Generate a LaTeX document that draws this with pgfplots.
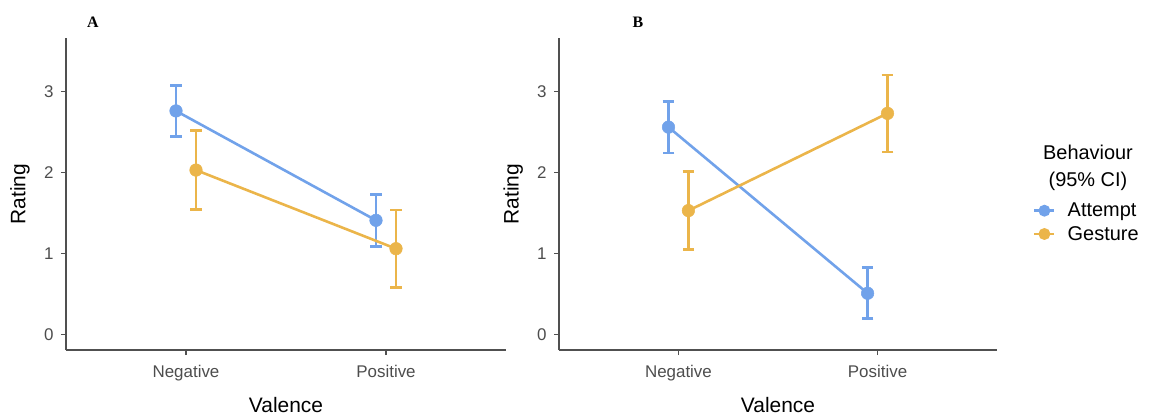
\documentclass[border=0pt]{standalone}
\usepackage{fontspec}
\setmainfont{Liberation Sans}
\newfontfamily\panelfont{Liberation Serif}
\usepackage{pgfplots}
\pgfplotsset{compat=1.18}

\definecolor{attblue}{HTML}{71A2EA}
\definecolor{gesorange}{HTML}{EBB54A}
\definecolor{axisgray}{HTML}{505050}
\definecolor{tickgray}{HTML}{4D4D4D}

\pgfplotsset{
  ratingaxis/.style={
    scale only axis, width=440bp, height=312bp,
    xmin=0.4, xmax=2.6, ymin=-0.19, ymax=3.66,
    axis x line=bottom, axis y line=left,
    axis line style={axisgray, line width=1.2bp, -},
    xtick={1,2}, xticklabels={Negative,Positive},
    ytick={0,1,2,3},
    tick align=outside, major tick length=5bp,
    tick style={axisgray, line width=1.2bp},
    ticklabel style={font=\fontsize{17}{20}\selectfont, text=tickgray},
    xticklabel style={yshift=-7bp},
    yticklabel style={xshift=-4bp},
    /pgf/number format/assume math mode=true,
    xlabel={Valence}, ylabel={Rating},
    label style={font=\fontsize{21}{24}\selectfont},
    xlabel style={at={(axis description cs:0.5,-0.176)}, anchor=center},
    ylabel style={at={(axis description cs:-0.1045,0.5)}, anchor=center},
    clip=false,
  },
  series/.style={
    color=#1, line width=2.6bp, mark=*, mark size=6.3bp,
    mark options={solid, fill=#1, draw=#1, line width=0.5bp},
    error bars/y dir=both, error bars/y explicit,
    error bars/error mark=|,
    error bars/error mark options={line width=2.6bp, mark size=5.8bp, #1},
    error bars/error bar style={line width=2.8bp, #1},
  },
}

\begin{document}
\begin{tikzpicture}
\path[use as bounding box] (0,0) rectangle (1149bp,417bp);

% Panel A
\begin{axis}[ratingaxis, at={(66bp,67bp)}, anchor=south west]
\addplot[series=attblue] coordinates {
  (0.95,2.76) +- (0,0.315)
  (1.95,1.41) +- (0,0.32)
};
\addplot[series=gesorange] coordinates {
  (1.05,2.03) +- (0,0.49)
  (2.05,1.06) +- (0,0.48)
};
\end{axis}

% Panel B
\begin{axis}[ratingaxis, width=438bp, at={(559bp,67bp)}, anchor=south west,
  legend style={at={(1.082,0.409)}, anchor=west, draw=none, fill=none,
    font=\fontsize{20}{24}\selectfont, inner sep=0pt, row sep=4bp,
    cells={anchor=west},
    /tikz/every odd column/.append style={column sep=10bp}},
  legend image code/.code={
    \draw[#1, mark=none, line width=2.6bp] (0bp,0bp) -- (20bp,0bp);
    \fill[#1] (10bp,0bp) circle (4.6bp);
  }]
\addplot[series=attblue] coordinates {
  (0.95,2.56) +- (0,0.32)
  (1.95,0.51) +- (0,0.315)
};
\addlegendentry{Attempt}
\addplot[series=gesorange] coordinates {
  (1.05,1.53) +- (0,0.48)
  (2.05,2.73) +- (0,0.475)
};
\addlegendentry{Gesture}
\end{axis}

\node[font=\panelfont\bfseries\fontsize{16}{18}\selectfont] at (93bp,395bp) {A};
\node[font=\panelfont\bfseries\fontsize{16}{18}\selectfont] at (638bp,395bp) {B};
\node[font=\fontsize{20}{27}\selectfont, align=center] at (1088bp,249bp) {Behaviour\\(95\% CI)};
\end{tikzpicture}
\end{document}
